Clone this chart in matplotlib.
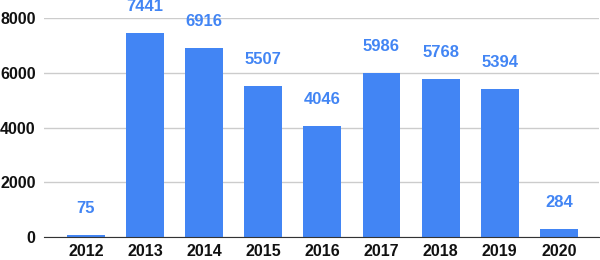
import matplotlib
matplotlib.use('Agg')
from matplotlib import pyplot as plt

years = ['2012', '2013', '2014', '2015', '2016', '2017', '2018', '2019', '2020']
counts = [75, 7441, 6916, 5507, 4046, 5986, 5768, 5394, 284]
yticks = [0, 2000, 4000, 6000, 8000]

plt.rcParams['font.family'] = ['Liberation Sans', 'DejaVu Sans']

fig = plt.figure(figsize=(6, 2.6), dpi=100)
ax = fig.add_axes([44 / 600, 23 / 260, 555 / 600, 219 / 260])

x = range(len(years))
ax.bar(x, counts, width=0.64, color='#4285F4', zorder=3)

# value labels above the bars
for i, v in enumerate(counts):
    ax.annotate(str(v), (i, v), xytext=(0, 19), textcoords='offset points',
                ha='center', va='center', color='#4285F4',
                fontsize=12, fontweight='bold')

ax.set_xlim(-0.71, 8.68)
ax.set_ylim(0, 8000)
ax.set_xticks(list(x))
ax.set_xticklabels(years)
ax.set_yticks(yticks)
ax.set_yticklabels([str(t) for t in yticks])

ax.grid(axis='y', color='#cccccc', linewidth=1, zorder=0)
for s in ['top', 'right', 'left']:
    ax.spines[s].set_visible(False)
ax.spines['bottom'].set_color('#333333')
ax.spines['bottom'].set_zorder(4)
ax.tick_params(axis='both', length=0, labelsize=11.5, labelcolor='#111111')
ax.tick_params(axis='x', pad=5)
ax.tick_params(axis='y', pad=6)
for lab in ax.get_xticklabels() + ax.get_yticklabels():
    lab.set_fontweight('bold')

fig.savefig('out.png', dpi=100)
